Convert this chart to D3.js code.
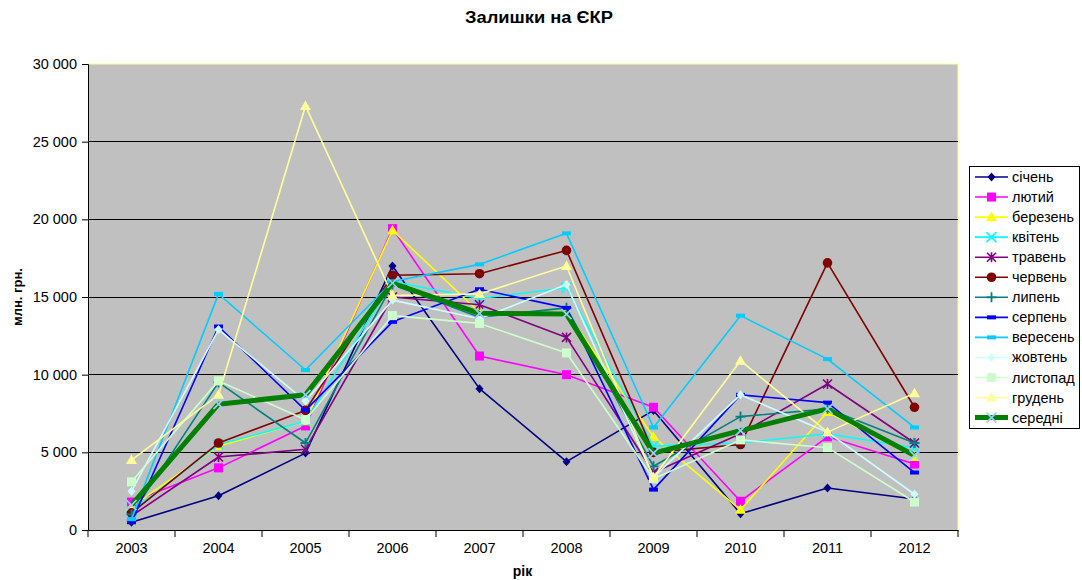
<!DOCTYPE html>
<html><head><meta charset="utf-8">
<script src="https://cdn.jsdelivr.net/npm/d3@7"></script>
<style>body{margin:0;background:#fff;} svg{display:block;font-family:Arial,"Liberation Sans",sans-serif;}</style>
</head><body><svg id="c" width="1082" height="580"></svg>
<script>
const years = ["2003","2004","2005","2006","2007","2008","2009","2010","2011","2012"];
const yTicks = [0,5000,10000,15000,20000,25000,30000];
const seriesNames = ["січень","лютий","березень","квітень","травень","червень","липень","серпень","вересень","жовтень","листопад","грудень","середні"];
const sichen   = [500,2200,4950,17000,9100,4400,7700,1050,2700,2000];
const lyutyi   = [1800,4000,6700,19400,11200,10000,7900,1850,6000,4250];
const berezen  = [1500,5400,7000,19300,14000,14000,6000,1300,7600,4700];
const kviten   = [1200,5500,7000,16000,14900,15600,5400,5600,6200,5300];
const traven   = [900,4700,5200,15000,14500,12400,3700,6200,9400,5600];
const cherven  = [1100,5600,7700,16400,16500,18000,5000,5500,17200,7900];
const lypen    = [1000,9500,5600,15800,13700,14300,4100,7300,7800,5600];
const serpen   = [500,13100,7700,13400,15500,14300,2600,8700,8200,3700];
const veresen  = [700,15200,10300,16000,17100,19100,6600,13800,11000,6600];
const zhovten  = [2500,12900,8300,14800,13600,15800,3400,8700,6300,2300];
const lystopad = [3100,9600,7100,13800,13300,11400,3300,5800,5300,1800];
const gruden   = [4500,8700,27300,15100,15200,17000,3400,10900,6300,8800];
const seredni  = [1600,8100,8700,15900,13950,13900,4950,6400,7800,4800];

const allValues = [sichen,lyutyi,berezen,kviten,traven,cherven,lypen,serpen,veresen,zhovten,lystopad,gruden,seredni];
const styles = [
  {c:"#000080", m:"diamond", mc:"#000080"},
  {c:"#FF00FF", m:"square", mc:"#FF00FF"},
  {c:"#FFFF00", m:"triangle", mc:"#FFFF00"},
  {c:"#00FFFF", m:"x", mc:"#00FFFF"},
  {c:"#800080", m:"star", mc:"#800080"},
  {c:"#800000", m:"circle", mc:"#800000"},
  {c:"#008080", m:"plus", mc:"#008080"},
  {c:"#0000FF", m:"dash", mc:"#0000FF"},
  {c:"#00CCFF", m:"dash", mc:"#00CCFF"},
  {c:"#CCFFFF", m:"diamond", mc:"#CCFFFF"},
  {c:"#CCFFCC", m:"square", mc:"#CCFFCC"},
  {c:"#FFFF99", m:"triangle", mc:"#FFFF99"},
  {c:"#008000", m:"x", mc:"#99CCFF", w:5}
];

const svg = d3.select("#c");
const L=88, R=958, T=64, B=530;
const x = d3.scaleBand().domain(years).range([L,R]);
const y = d3.scaleLinear().domain([0,30000]).range([B,T]);
const fmt = v => d3.format(",")(v).replace(/,/g," ");

svg.append("text").attr("x",539).attr("y",23).attr("text-anchor","middle")
  .attr("font-weight","bold").attr("font-size",16).attr("textLength",148).attr("lengthAdjust","spacingAndGlyphs").text("Залишки на ЄКР");

svg.append("rect").attr("x",L).attr("y",T).attr("width",R-L).attr("height",B-T)
  .attr("fill","#C0C0C0");
svg.append("path").attr("d",`M${L},${T}H${R}V${B}`).attr("fill","none").attr("stroke","#FFFF99").attr("stroke-width",1);

// gridlines
svg.append("g").selectAll("line").data(yTicks.filter(d=>d>0 && d<30000)).join("line")
  .attr("x1",L).attr("x2",R).attr("y1",d=>y(d)).attr("y2",d=>y(d))
  .attr("stroke","#000").attr("stroke-width",1).attr("shape-rendering","crispEdges");

// y axis
const ya = svg.append("g").attr("transform",`translate(${L},0)`)
  .call(d3.axisLeft(y).tickValues(yTicks).tickFormat(fmt).tickSizeOuter(0).tickSize(6).tickPadding(5));
ya.select(".domain").attr("stroke","#000");
ya.selectAll("text").attr("font-size",14.5).attr("font-family","Arial,'Liberation Sans',sans-serif").attr("fill","#000");

// x axis
const xa = svg.append("g").attr("transform",`translate(0,${B})`)
  .call(d3.axisBottom(x).tickSize(0).tickPadding(13));
xa.select(".domain").attr("stroke","#000");
xa.selectAll("text").attr("font-size",14.5).attr("font-family","Arial,'Liberation Sans',sans-serif").attr("fill","#000");
const edges = years.map(d=>x(d)).concat([R]);
xa.append("g").selectAll("line").data(edges).join("line")
  .attr("x1",d=>d).attr("x2",d=>d).attr("y1",0).attr("y2",7).attr("stroke","#000");

svg.append("text").attr("x",522.5).attr("y",576).attr("text-anchor","middle")
  .attr("font-weight","bold").attr("font-size",14).text("рік");
svg.append("text").attr("transform",`translate(22,297) rotate(-90)`).attr("text-anchor","middle")
  .attr("font-weight","bold").attr("font-size",13).text("млн. грн.");

function marker(g, type, color, cx, cy){
  const s = 4;
  if(type==="diamond") g.append("path").attr("d",`M${cx},${cy-s-0.5}L${cx+s},${cy}L${cx},${cy+s+0.5}L${cx-s},${cy}Z`).attr("fill",color);
  else if(type==="square") g.append("rect").attr("x",cx-4.5).attr("y",cy-4.5).attr("width",9).attr("height",9).attr("fill",color);
  else if(type==="triangle") g.append("path").attr("d",`M${cx},${cy-5.5}L${cx+5.5},${cy+4}L${cx-5.5},${cy+4}Z`).attr("fill",color);
  else if(type==="circle") g.append("circle").attr("cx",cx).attr("cy",cy).attr("r",4.8).attr("fill",color);
  else if(type==="x") g.append("path").attr("d",`M${cx-5},${cy-5}L${cx+5},${cy+5}M${cx-5},${cy+5}L${cx+5},${cy-5}`).attr("stroke",color).attr("stroke-width",1.6).attr("fill","none");
  else if(type==="star") g.append("path").attr("d",`M${cx-4.5},${cy-4.5}L${cx+4.5},${cy+4.5}M${cx-4.5},${cy+4.5}L${cx+4.5},${cy-4.5}M${cx},${cy-5}V${cy+5}`).attr("stroke",color).attr("stroke-width",1.6).attr("fill","none");
  else if(type==="plus") g.append("path").attr("d",`M${cx-5},${cy}H${cx+5}M${cx},${cy-5}V${cy+5}`).attr("stroke",color).attr("stroke-width",1.8).attr("fill","none");
  else if(type==="dash") g.append("rect").attr("x",cx-4.5).attr("y",cy-2).attr("width",9).attr("height",4).attr("fill",color);
}

const line = d3.line().x((d,i)=>x(years[i])+x.bandwidth()/2).y(d=>y(d));
allValues.forEach((vals,si)=>{
  const st = styles[si];
  const g = svg.append("g");
  g.append("path").attr("d",line(vals)).attr("fill","none").attr("stroke",st.c).attr("stroke-width",st.w||1.6).attr("stroke-linejoin","round");
  vals.forEach((v,i)=>marker(g, st.m, st.mc, x(years[i])+x.bandwidth()/2, y(v)));
});

// legend
const lg = svg.append("g");
lg.append("rect").attr("x",969.5).attr("y",166.5).attr("width",110).attr("height",262).attr("fill","#fff").attr("stroke","#000");
seriesNames.forEach((n,i)=>{
  const st = styles[i];
  const cy = 177 + i*20.05;
  const g = lg.append("g");
  g.append("line").attr("x1",975).attr("x2",1008).attr("y1",cy).attr("y2",cy).attr("stroke",st.c).attr("stroke-width",st.w||1.6);
  marker(g, st.m, st.mc, 991.5, cy);
  g.append("text").attr("x",1012).attr("y",cy+5).attr("font-size",14.5).attr("fill","#000").text(n);
});
</script></body></html>
